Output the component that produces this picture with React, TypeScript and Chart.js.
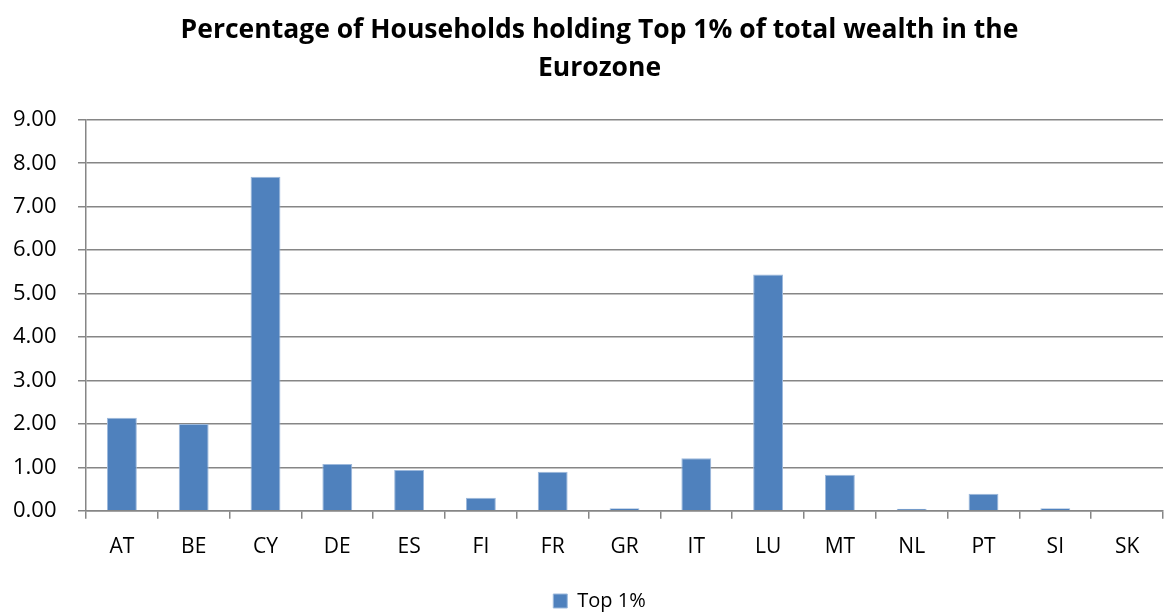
import React, { useEffect, useRef } from "react";
import { Chart, registerables } from "chart.js";

Chart.register(...registerables);

const categories = ["AT", "BE", "CY", "DE", "ES", "FI", "FR", "GR", "IT", "LU", "MT", "NL", "PT", "SI", "SK"];
const top1Values = [2.14, 2.0, 7.69, 1.08, 0.94, 0.3, 0.9, 0.06, 1.21, 5.44, 0.83, 0.05, 0.39, 0.06, 0];
const seriesLabel = "Top 1%";
const titleLines = ["Percentage of Households holding Top 1% of total wealth in the", "Eurozone"];

export default function App() {
  const ref = useRef<HTMLCanvasElement | null>(null);
  useEffect(() => {
    document.body.style.margin = "0";
    const ctx = ref.current!;
    const font = "'Open Sans', sans-serif";
    const chart = new Chart(ctx, {
      type: "bar",
      data: {
        labels: categories,
        datasets: [
          {
            label: seriesLabel,
            data: top1Values,
            backgroundColor: "#4F81BD",
            borderColor: "#9DB9DC",
            borderWidth: 1,
            barPercentage: 0.8,
            categoryPercentage: 0.52,
          },
        ],
      },
      options: {
        animation: false,
        responsive: false,
        maintainAspectRatio: false,
        layout: { padding: { top: 12, right: 2, left: 36, bottom: -9 } },
        plugins: {
          title: {
            display: true,
            text: titleLines,
            color: "#000",
            font: { family: font, size: 26.5, weight: "bold", lineHeight: 1.43 },
            padding: { top: 0, bottom: 32 },
          },
          legend: {
            display: true,
            position: "bottom",
            labels: {
              color: "#000",
              font: { family: font, size: 20 },
              boxWidth: 14,
              boxHeight: 14,
              padding: 4,
            },
          },
          tooltip: { enabled: false },
        },
        scales: {
          x: {
            grid: {
              display: true,
              drawOnChartArea: false,
              drawTicks: true,
              tickLength: 8,
              color: "#868686",
              lineWidth: 1.5,
              offset: true,
            },
            border: { display: true, color: "#868686", width: 1.5 },
            ticks: { color: "#000", font: { family: font, size: 21 }, padding: 16 },
            afterFit: (axis: any) => {
              axis.height += 11;
            },
          },
          y: {
            min: 0,
            max: 9,
            ticks: {
              stepSize: 1,
              color: "#000",
              font: { family: font, size: 22 },
              mirror: true,
              crossAlign: "near",
              padding: -73,
              callback: (v: any) => Number(v).toFixed(2),
            },
            grid: {
              color: "#868686",
              lineWidth: 1.5,
              drawTicks: true,
              tickLength: 8,
            },
            border: { display: true, color: "#868686", width: 1.5 },
            afterFit: (axis: any) => {
              axis.width = 50;
            },
          },
        },
      },
    });
    return () => chart.destroy();
  }, []);
  return (
    <div style={{ position: "absolute", left: 0, top: 0, width: 1165, height: 612, background: "#fff" }}>
      <canvas ref={ref} width={1165} height={612} style={{ display: "block" }} />
    </div>
  );
}
